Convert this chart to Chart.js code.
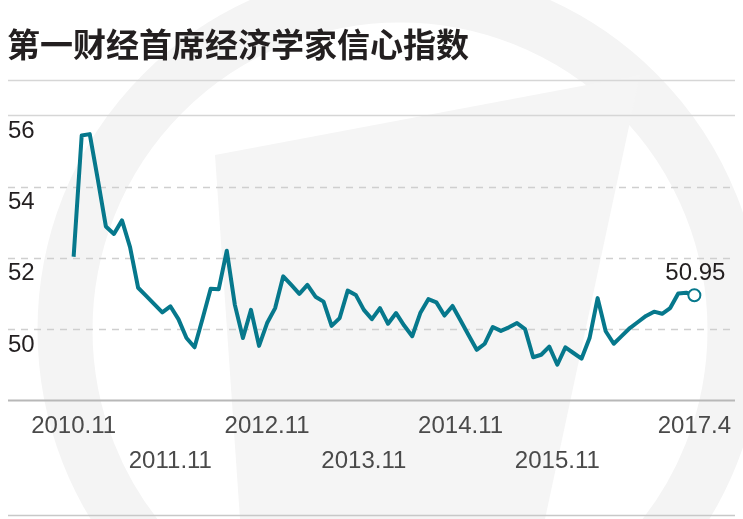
<!DOCTYPE html>
<html>
<head>
<meta charset="utf-8">
<script src="https://cdn.jsdelivr.net/npm/chart.js@4.4.1/dist/chart.umd.min.js"></script>
<style>
  html, body { margin: 0; padding: 0; background: #fff; }
  #wrap { width: 743px; height: 519px; }
</style>
</head>
<body>
<div id="wrap"><canvas id="chartIndice"></canvas></div>
<script>
// months 2010.11 - 2017.4
const months = [
  "2010.11", "2010.12",
  "2011.1", "2011.2", "2011.3", "2011.4", "2011.5", "2011.6", "2011.7", "2011.8", "2011.9", "2011.10", "2011.11", "2011.12",
  "2012.1", "2012.2", "2012.3", "2012.4", "2012.5", "2012.6", "2012.7", "2012.8", "2012.9", "2012.10", "2012.11", "2012.12",
  "2013.1", "2013.2", "2013.3", "2013.4", "2013.5", "2013.6", "2013.7", "2013.8", "2013.9", "2013.10", "2013.11", "2013.12",
  "2014.1", "2014.2", "2014.3", "2014.4", "2014.5", "2014.6", "2014.7", "2014.8", "2014.9", "2014.10", "2014.11", "2014.12",
  "2015.1", "2015.2", "2015.3", "2015.4", "2015.5", "2015.6", "2015.7", "2015.8", "2015.9", "2015.10", "2015.11", "2015.12",
  "2016.1", "2016.2", "2016.3", "2016.4", "2016.5", "2016.6", "2016.7", "2016.8", "2016.9", "2016.10", "2016.11", "2016.12",
  "2017.1", "2017.2", "2017.3", "2017.4"
];

const indice = [
  52.03, 55.43, 55.47, 54.2, 52.88, 52.67, 53.05, 52.3, 51.16, 50.93,
  50.7, 50.47, 50.64, 50.28, 49.75, 49.49, 50.3, 51.13, 51.12, 52.2,
  50.68, 49.75, 50.54, 49.53, 50.17, 50.59, 51.48, 51.24, 50.99, 51.24,
  50.91, 50.77, 50.09, 50.31, 51.08, 50.96, 50.54, 50.28, 50.59, 50.15,
  50.45, 50.1, 49.8, 50.45, 50.84, 50.75, 50.38, 50.65, 50.24, 49.83,
  49.42, 49.59, 50.06, 49.95, 50.05, 50.17, 50.0, 49.21, 49.28, 49.51,
  49.0, 49.49, 49.33, 49.17, 49.75, 50.87, 49.94, 49.59, 49.81, 50.03,
  50.2, 50.37, 50.49, 50.43, 50.59, 51.0, 51.02, 50.95
];

const xTicks = ["2010.11", "2011.11", "2012.11", "2013.11", "2014.11", "2015.11", "2017.4"];
const yLabels = [50, 52, 54, 56];
const yDashed = [50, 52, 54];
const ySolid = [56, 57];

const teal = "#06788c";
const lastIdx = indice.length - 1;

// faint logo watermark behind everything
const watermark = {
  id: "watermark",
  beforeDraw(chart) {
    const c = chart.ctx;
    c.save();
    c.fillStyle = "#fff";
    c.fillRect(0, 0, chart.width, chart.height);
    c.strokeStyle = "#f4f4f4";
    c.lineWidth = 55;
    c.beginPath();
    c.arc(400, 330, 335, 0, Math.PI * 2);
    c.stroke();
    c.fillStyle = "#f5f5f5";
    c.beginPath();
    c.moveTo(215, 155);
    c.lineTo(640, 75);
    c.lineTo(545, 519);
    c.lineTo(240, 519);
    c.closePath();
    c.fill();
    c.restore();
  }
};

// grid lines + bottom rule + end value label
const decor = {
  id: "decor",
  beforeDatasetsDraw(chart) {
    const c = chart.ctx;
    const y = chart.scales.y;
    const a = chart.chartArea;
    c.save();
    y.ticks.forEach(t => {
      const py = Math.round(y.getPixelForValue(t.value)) + 0.5;
      if (yDashed.includes(t.value)) {
        c.strokeStyle = "#cfcfcf";
        c.lineWidth = 1.5;
        c.setLineDash([7, 6]);
      } else if (ySolid.includes(t.value)) {
        c.strokeStyle = "#d6d6d6";
        c.lineWidth = 1.5;
        c.setLineDash([]);
      } else if (t.value === y.min) {
        c.strokeStyle = "#b8b8b8";
        c.lineWidth = 2;
        c.setLineDash([]);
      } else {
        return;
      }
      c.beginPath();
      c.moveTo(a.left, py);
      c.lineTo(a.right, py);
      c.stroke();
    });
    c.setLineDash([]);
    c.strokeStyle = "#c8c8c8";
    c.lineWidth = 1.5;
    c.beginPath();
    c.moveTo(a.left, 515.5);
    c.lineTo(a.right, 515.5);
    c.stroke();
    c.restore();
  },
  afterDatasetsDraw(chart) {
    const pt = chart.getDatasetMeta(0).data[lastIdx];
    const c = chart.ctx;
    c.save();
    c.font = "24px 'Liberation Sans', Arial, sans-serif";
    c.fillStyle = "#231f20";
    c.textAlign = "center";
    c.textBaseline = "alphabetic";
    c.fillText(indice[lastIdx].toFixed(2), pt.x + 1, pt.y - 15);
    c.restore();
  }
};

document.addEventListener("DOMContentLoaded", () => {
  const ctx = document.getElementById("chartIndice");
  new Chart(ctx, {
    type: "line",
    data: {
      datasets: [
        {
          label: "信心指数",
          data: indice.map((v, i) => ({ x: i, y: v })),
          borderColor: teal,
          borderWidth: 4,
          tension: 0,
          fill: false,
          pointRadius: c => (c.dataIndex === lastIdx ? 6 : 0),
          pointHoverRadius: 0,
          pointBackgroundColor: "#fff",
          pointBorderColor: teal,
          pointBorderWidth: 2,
          borderJoinStyle: "round",
          borderCapStyle: "butt",
        },
      ],
    },
    options: {
      responsive: true,
      maintainAspectRatio: false,
      animation: false,
      layout: { padding: { left: 7, right: 8, top: 0, bottom: 31 } },
      plugins: {
        legend: { display: false },
        tooltip: { enabled: false },
        title: {
          display: true,
          text: "第一财经首席经济学家信心指数",
          align: "start",
          color: "#231f20",
          font: { family: "'Noto Sans CJK SC', sans-serif", size: 33, weight: "bold", lineHeight: 1.2 },
          padding: { top: 25, bottom: 15 },
        },
      },
      scales: {
        x: {
          type: "linear",
          min: -8.14,
          max: 82.04,
          grid: { display: false, drawTicks: false },
          border: { display: false },
          afterBuildTicks: s => {
            s.ticks = xTicks.map(l => ({ value: months.indexOf(l) }));
          },
          ticks: {
            autoSkip: false,
            maxRotation: 0,
            padding: 9,
            color: "#4a4a4a",
            font: { family: "'Liberation Sans', Arial, sans-serif", size: 24, lineHeight: 1.45 },
            callback: (v, i) => {
              const l = months[v];
              return i % 2 === 1 ? ["", l] : [l, ""];
            },
          },
        },
        y: {
          min: 48,
          max: 57,
          grid: { display: false, drawTicks: false },
          border: { display: false },
          ticks: {
            stepSize: 1,
            mirror: true,
            padding: 0,
            labelOffset: 16,
            color: "#231f20",
            font: { family: "'Liberation Sans', Arial, sans-serif", size: 24 },
            callback: v => (yLabels.includes(v) ? String(v) : ""),
          },
        },
      },
    },
    plugins: [watermark, decor],
  });
});
</script>
</body>
</html>
